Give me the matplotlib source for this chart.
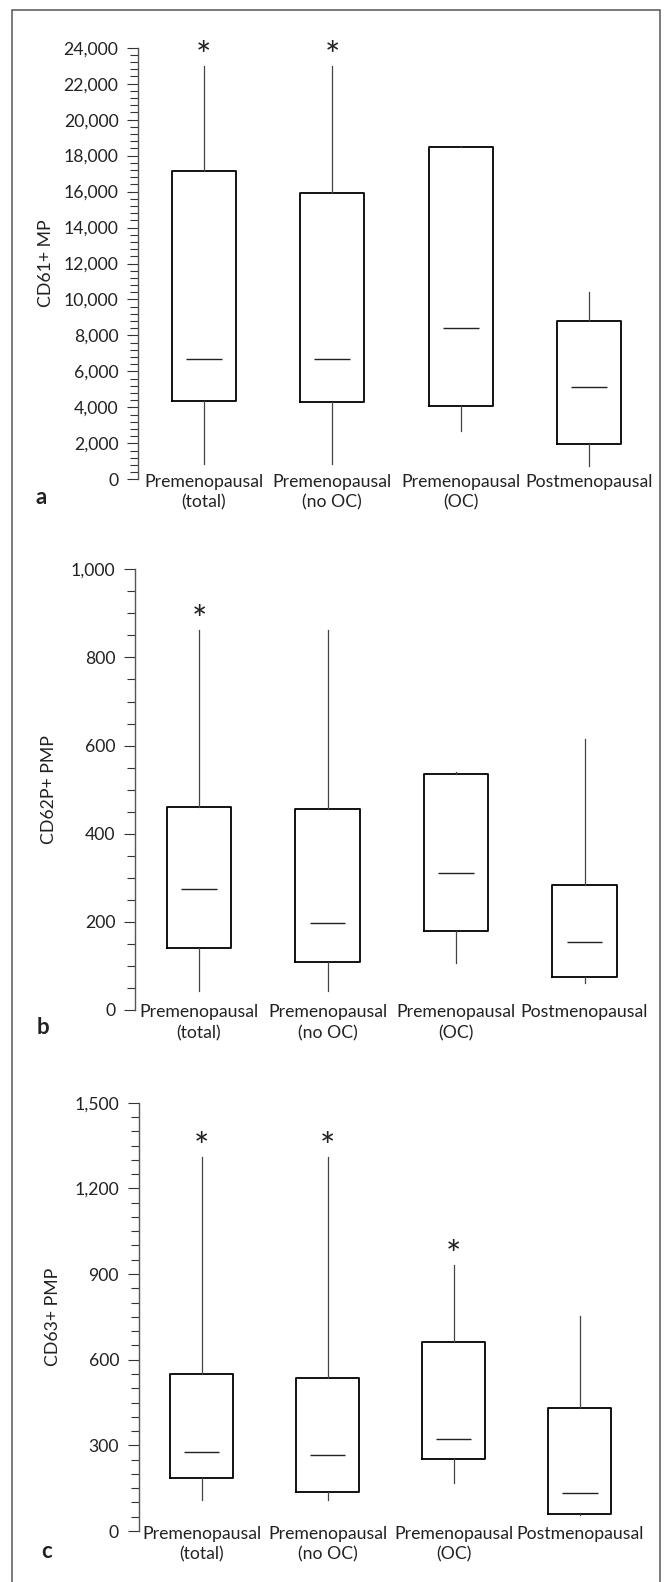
import matplotlib
matplotlib.use("Agg")
import matplotlib.pyplot as plt
from matplotlib.ticker import MultipleLocator, FuncFormatter
from matplotlib.patches import Rectangle

plt.rcParams['font.family'] = ['Lato', 'DejaVu Sans']

# ---------------- data ----------------
cat_line1 = ["Premenopausal", "Premenopausal", "Premenopausal", "Postmenopausal"]
cat_line2 = ["(total)", "(no OC)", "(OC)", ""]

# panel a: CD61+ MP
a_whislo = [850, 850, 2710, 760]
a_q1 = [4360, 4320, 4100, 1980]
a_med = [6670, 6670, 8400, 5150]
a_q3 = [17140, 15900, 18460, 8820]
a_whishi = [22980, 22980, 18550, 10430]
a_star = [True, True, False, False]

# panel b: CD62P+ PMP
b_whislo = [44, 44, 107, 62]
b_q1 = [140, 110, 180, 75]
b_med = [275, 197, 310, 155]
b_q3 = [461, 455, 535, 284]
b_whishi = [862, 862, 539, 616]
b_star = [True, False, False, False]

# panel c: CD63+ PMP
c_whislo = [109, 109, 169, 55]
c_q1 = [184, 138, 251, 61]
c_med = [276, 267, 321, 132]
c_q3 = [551, 536, 663, 432]
c_whishi = [1309, 1309, 932, 753]
c_star = [True, True, True, False]

ylabels = ["CD61+ MP", "CD62P+ PMP", "CD63+ PMP"]
panel_letters = ["a", "b", "c"]
y_max = [24000, 1000, 1500]
y_major = [2000, 200, 300]
y_minor = [400, 50, 50]

# ---------------- layout (pixels) ----------------
W, H = 664, 1582
fig = plt.figure(figsize=(W / 100, H / 100), dpi=100)

layouts = [
    # axis_x, center1, spacing, y_top, y_bottom, ylabel_x, letter_x, letter_y
    (138.0, 203.8, 128.4, 47.7, 479.3, 46, 41, 497),
    (135.0, 199.0, 128.5, 569.3, 1010.0, 49, 43, 1028),
    (138.5, 201.6, 126.1, 1102.7, 1531.0, 53, 47, 1551),
]

panels = [
    (a_whislo, a_q1, a_med, a_q3, a_whishi, a_star),
    (b_whislo, b_q1, b_med, b_q3, b_whishi, b_star),
    (c_whislo, c_q1, c_med, c_q3, c_whishi, c_star),
]

FS = 12.7
x_right = 4.6

for k, (data, lay) in enumerate(zip(panels, layouts)):
    whislo, q1, med, q3, whishi, star = data
    axis_x, c1, sp, ytop, ybot, ylab_x, let_x, let_y = lay
    x_left = 1 - (c1 - axis_x) / sp
    width_px = (x_right - x_left) * sp
    ax = fig.add_axes([axis_x / W, (H - ybot) / H, width_px / W, (ybot - ytop) / H])
    ax.set_xlim(x_left, x_right)
    ax.set_ylim(0, y_max[k])

    stats = []
    for i in range(4):
        stats.append(dict(whislo=whislo[i], q1=q1[i], med=med[i], q3=q3[i],
                          whishi=whishi[i], fliers=[]))
    pos = [1, 2, 3, 4]
    ax.bxp(stats, positions=pos, widths=0.5, showcaps=False, showfliers=False,
           boxprops=dict(color='black', linewidth=1.3),
           whiskerprops=dict(color='#444444', linewidth=0.9),
           medianprops=dict(visible=False))
    for i in range(4):
        ax.hlines(med[i], pos[i] - 0.14, pos[i] + 0.14, color='#222222', linewidth=1.0)
        if star[i]:
            ax.annotate('*', xy=(pos[i], whishi[i]), xytext=(0, -1.5),
                        textcoords='offset points', ha='center', va='baseline',
                        fontsize=26, color='#222222')

    for s in ['top', 'right', 'bottom']:
        ax.spines[s].set_visible(False)
    ax.spines['left'].set_color('#555555')
    ax.spines['left'].set_linewidth(1.0)

    ax.yaxis.set_major_locator(MultipleLocator(y_major[k]))
    ax.yaxis.set_minor_locator(MultipleLocator(y_minor[k]))
    ax.yaxis.set_major_formatter(FuncFormatter(lambda v, p: f"{int(round(v)):,}"))
    ax.tick_params(axis='y', which='major', length=8, width=0.8, color='#333333',
                   labelsize=FS, pad=6, labelcolor='#222222')
    ax.tick_params(axis='y', which='minor', length=5.5, width=0.8, color='#333333')
    ax.set_xticks([])

    for i in range(4):
        ax.annotate(cat_line1[i], xy=(pos[i], 0), xytext=(0, -5.4),
                    textcoords='offset points', ha='center', va='baseline',
                    fontsize=FS, color='#222222', annotation_clip=False)
        if cat_line2[i]:
            ax.annotate(cat_line2[i], xy=(pos[i], 0), xytext=(0, -20.6),
                        textcoords='offset points', ha='center', va='baseline',
                        fontsize=FS, color='#222222', annotation_clip=False)

    fig.text(ylab_x / W, 1 - (ytop + ybot) / 2 / H, ylabels[k], rotation=90,
             ha='center', va='center', fontsize=FS, color='#222222')
    fig.text(let_x / W, 1 - let_y / H, panel_letters[k], ha='center', va='center',
             fontsize=16, fontweight='bold', color='#222222')

# outer frame (open at the bottom)
fig.add_artist(Rectangle((11.7 / W, -0.05), (660 - 11.7) / W, 1.05 - 10 / H,
                         transform=fig.transFigure, fill=False,
                         edgecolor='#555555', linewidth=1.1))

fig.savefig("out.png", dpi=100)
